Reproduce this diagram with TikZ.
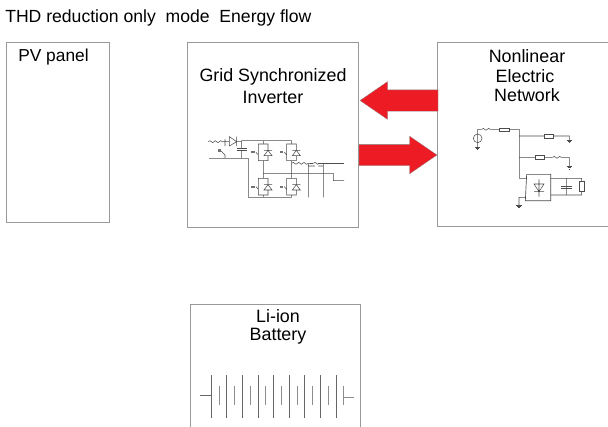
\documentclass[tikz,border=0pt]{standalone}
\usepackage{fontspec}
\setmainfont{Liberation Sans}
\usetikzlibrary{shapes.arrows,decorations.pathmorphing}
\definecolor{flowred}{HTML}{ED1C24}
\tikzset{
  panelbox/.style={draw=black!40,line width=0.6pt,inner sep=0,outer sep=0,fill=white},
  flowarrow/.style={single arrow,fill=flowred,draw=black!45,line width=0.2pt,inner sep=0,outer sep=0,
    text height=15.75pt,text depth=0pt,text width=0pt,minimum height=58.5pt,single arrow head extend=6.2pt,single arrow tip angle=69},
  lab/.style={font=\fontsize{13.4}{13.4}\selectfont,inner sep=0},
  wire/.style={black!70,line width=0.4pt},
  coilwire/.style={wire,decorate,decoration={snake,segment length=4pt,amplitude=0.7pt}}
}
\begin{document}
\begin{tikzpicture}[x=0.75pt,y=-0.75pt]
\clip (0,0) rectangle (608,426);
\def\gnd#1#2{\draw[wire] (#1-8,#2) -- (#1+8,#2) (#1-5,#2+3) -- (#1+5,#2+3) (#1-2,#2+7) -- (#1+2,#2+7);}
\def\rbox#1#2#3#4{\draw[wire,fill=white] (#1,#2) rectangle (#3,#4);}
\def\cell#1#2{% switch with free-wheeling diode
  \draw[wire] (#1,#2-25) -- (#1-15,#2-25) -- (#1-15,#2+25) -- (#1,#2+25)
    (#1+14,#2-6) -- (#1+14,#2-25) -- (#1,#2-25)
    (#1+14,#2+10) -- (#1+14,#2+25) -- (#1,#2+25)
    (#1+2,#2+10) -- (#1+26,#2+10) -- (#1+14,#2-6) -- cycle (#1+2,#2-6) -- (#1+26,#2-6)
    (#1-15,#2+8) -- (#1-22,#2);
  \fill[black!55] (#1-36,#2-3) rectangle (#1-25,#2+3);}
\useasboundingbox (0,0) rectangle (608,426);
% boxes
\node[panelbox,minimum width=77.25pt,minimum height=135pt] (pvpanel) at (57.5,132) {};
\node[panelbox,minimum width=128.25pt,minimum height=138.75pt] (inverter) at (272.5,134.5) {};
\node[panelbox,minimum width=129.75pt,minimum height=138pt] (network) at (523.5,134) {};
\node[panelbox,minimum width=127.5pt,minimum height=96pt] (battery) at (275,368) {};
% labels
\node[lab,anchor=west,font=\fontsize{13.2}{13.2}\selectfont] (title) at (5,18) {THD reduction only\ \ mode\ \ Energy flow};
\node[lab,font=\fontsize{13}{13}\selectfont] (pvlab) at (53.5,57) {PV panel};
\node[lab] (invlab) at (273,77) {Grid Synchronized};
\node[lab] (invlabb) at (273,97) {Inverter};
\node[lab] (netlab) at (527,56) {Nonlinear};
\node[lab] (netlabb) at (525,76) {Electric};
\node[lab] (netlabc) at (527,95) {Network};
\node[lab] (batlab) at (278,316) {Li-ion};
\node[lab] (batlabb) at (278,336) {Battery};
% energy flow
\node[flowarrow,shape border rotate=180,anchor=tip] (fromnet) at (360,100.5) {};
\node[flowarrow,anchor=tip] (tonet) at (437,155) {};
% inverter circuit
\begin{scope}[shift={(190,120)},x=0.25pt,y=-0.25pt]
\draw[coilwire] (55,65) -- (98,65);
\draw[wire] (98,65) -- (118,65) (105,58) -- (105,78) (140,65) -- (155,65)
  (118,50) -- (140,65) -- (118,78) -- cycle (140,50) -- (140,78)
  (155,62) -- (305,62) (155,62) -- (155,85) (155,92) -- (155,115)
  (57,115) -- (175,115) -- (175,232) -- (305,232)
  (105,115) -- (105,105) -- (92,92)
  (220,62) -- (220,72) (220,122) -- (220,175) (220,225) -- (220,232)
  (305,62) -- (305,72) (305,122) -- (305,175) (305,225) -- (305,232)
  (220,160) -- (430,160) -- (430,182) -- (462,182)
  (355,130) -- (355,232) (400,130) -- (400,232)
  (355,138) -- (375,138) (385,138) -- (400,138);
\draw[wire,line width=0.7pt] (140,85) -- (170,85) (140,92) -- (170,92);
\draw[coilwire] (305,130) -- (360,130);
\draw[wire] (360,130) -- (370,130) (385,130) -- (462,130);
\draw[coilwire] (370,130) -- (388,130);
\fill[black!55] (83,88) rectangle (92,95);
\cell{220}{97}
\cell{305}{97}
\cell{220}{200}
\cell{305}{200}
\end{scope}
% network circuit
\begin{scope}[shift={(440,110)},x=0.25pt,y=-0.25pt]
\draw[wire] (113,85) circle[radius=13];
\draw[wire] (113,72) -- (113,58) -- (125,58) (155,58) -- (238,58) -- (238,205) -- (260,205)
  (113,73) -- (113,97) (113,98) -- (113,112)
  (238,78) -- (388,78) -- (388,90) (238,142) -- (285,142) (314,142) -- (338,142)
  (368,142) -- (388,142) -- (388,168)
  (332,205) -- (425,205) -- (425,255) -- (332,255)
  (380,205) -- (380,255) (256,262) -- (237,262) -- (237,285)
  (297,208) -- (297,260) (282,222) -- (312,222) -- (297,245) -- cycle (282,245) -- (312,245);
\draw[wire,line width=0.5pt] (260,193) -- (332,193) -- (332,272) -- (256,272) -- cycle;
\draw[wire,line width=0.7pt] (364,228) -- (396,228) (364,234) -- (396,234);
\draw[coilwire] (125,58) -- (155,58);
\draw[coilwire] (338,142) -- (368,142);
\rbox{178}{54}{207}{64}
\rbox{312}{72}{341}{85}
\rbox{285}{136}{314}{148}
\rbox{419}{215}{433}{243}
\gnd{113}{112}
\gnd{388}{90}
\gnd{388}{170}
\gnd{237}{285}
\end{scope}
% battery cells
\begin{scope}[shift={(190,340)},x=0.25pt,y=-0.25pt]
\foreach \p in {64,110,157,204,250,297,344,391,438}
  \draw[wire,black!60] (\p,105) -- (\p,235);
\foreach \p in {87,133,181,227,274,321,367,414,461}
  \draw[wire,black!45] (\p,138) -- (\p,195);
\draw[wire,black!60] (30,165) -- (64,165);
\draw[wire,black!45] (461,173) -- (493,173);
\end{scope}
\end{tikzpicture}
\end{document}
